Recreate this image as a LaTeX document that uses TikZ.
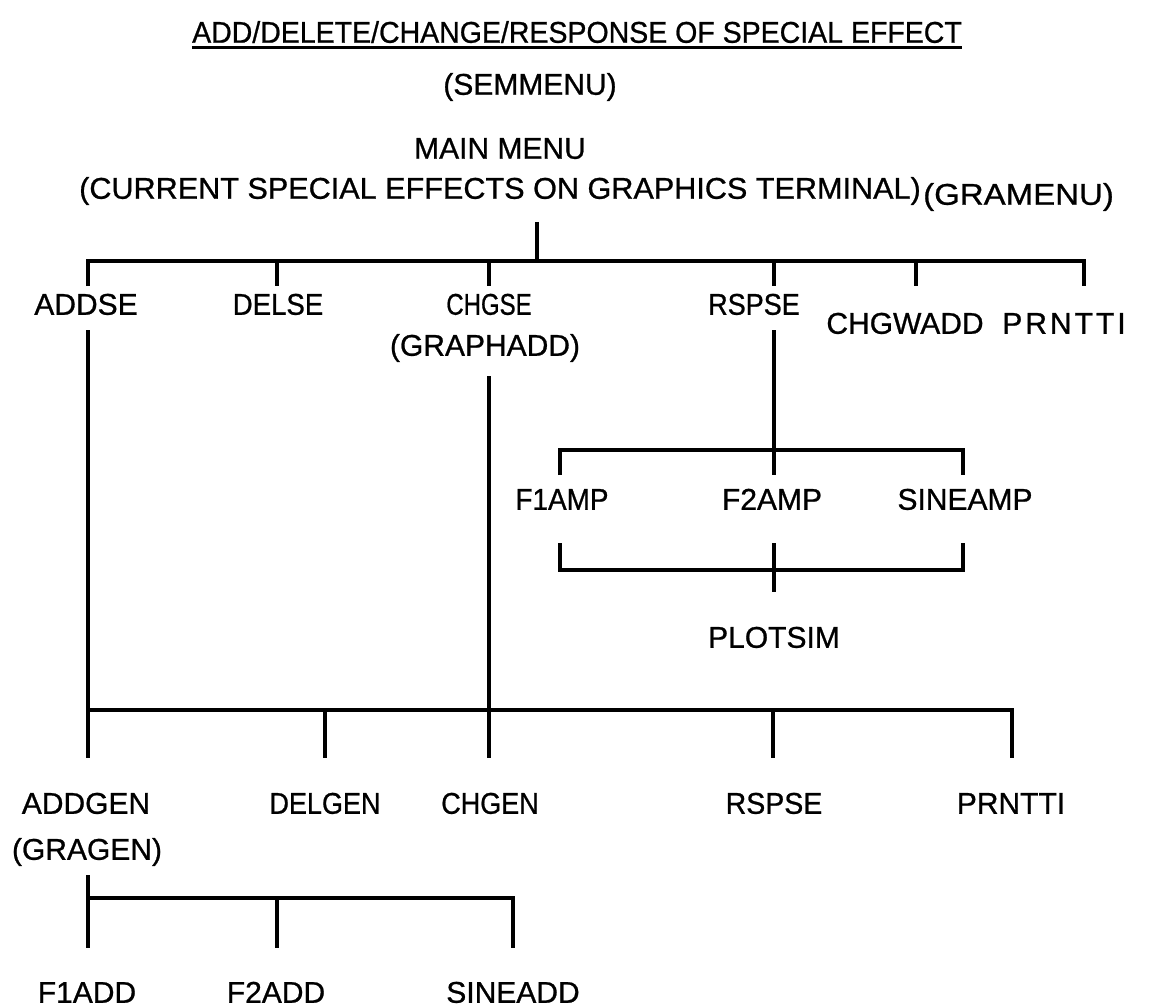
\documentclass[tikz,border=0pt]{standalone}
\usepackage{graphicx}
\usepackage{fontspec}
\setmainfont{Liberation Sans}
\newfontfamily\heavyfont[FakeBold=0.8]{Liberation Sans}
\newcommand{\sqz}[2]{\scalebox{#1}[1]{#2}}
\begin{document}
\begin{tikzpicture}[x=1pt,y=-1pt,
  lbl/.style={inner sep=0pt, text height=21.5pt, text depth=0pt, font=\heavyfont\fontsize{30}{34}\selectfont},
  wire/.style={line width=3.2pt, line join=miter}]
\useasboundingbox (0,0) rectangle (1153,1008);
% ---------- titles ----------
\node[lbl] (title) at (577,32) {\sqz{0.95}{ADD/DELETE/CHANGE/RESPONSE OF SPECIAL EFFECT}};
\draw[line width=3pt] ([yshift=-5pt]title.south west) -- ([yshift=-5pt]title.south east);
\node[lbl] (sem) at (530,84) {(SEMMENU)};
\node[lbl] (mainmenu) at (500,148) {MAIN MENU};
\node[lbl] (current) at (500,188) {\sqz{1.02}{(CURRENT SPECIAL EFFECTS ON GRAPHICS TERMINAL)}};
\node[lbl, anchor=west] (gramenu) at (923,194) {\sqz{1.1}{(GRAMENU)}};
% ---------- level 1 ----------
\node[lbl] (addse) at (86,304) {ADDSE};
\node[lbl] (delse) at (278,304) {\sqz{0.92}{DELSE}};
\node[lbl] (chgse) at (489,304) {\sqz{0.8}{CHGSE}};
\node[lbl] (graphadd) at (485,345) {(GRAPHADD)};
\node[lbl] (rspse) at (754,304) {\sqz{0.9}{RSPSE}};
\node[lbl] (chgwadd) at (905,323) {CHGWADD};
\node[lbl] (prntti) at (1064,323) {\addfontfeature{LetterSpace=10}PRNTTI};
% ---------- response sub tree ----------
\node[lbl] (f1amp) at (562,499) {\sqz{0.93}{F1AMP}};
\node[lbl] (f2amp) at (772,499) {F2AMP};
\node[lbl] (sineamp) at (965,499) {SINEAMP};
\node[lbl] (plotsim) at (774,637) {PLOTSIM};
% ---------- level 2 ----------
\node[lbl] (addgen) at (86,803) {ADDGEN};
\node[lbl] (gragen) at (87,849) {(GRAGEN)};
\node[lbl] (delgen) at (325,803) {\sqz{0.9}{DELGEN}};
\node[lbl] (chgen) at (490,803) {\sqz{0.9}{CHGEN}};
\node[lbl] (rspse2) at (774,803) {\sqz{0.95}{RSPSE}};
\node[lbl] (prntti2) at (1011,803) {PRNTTI};
% ---------- level 3 ----------
\node[lbl] (f1add) at (87,992) {F1ADD};
\node[lbl] (f2add) at (276,992) {F2ADD};
\node[lbl] (sineadd) at (513,992) {SINEADD};
% ---------- coordinates ----------
\coordinate (m0) at (537,222);
\coordinate (m1) at (537,261);
\coordinate (tA) at (88,261);  \coordinate (tAe) at (88,286);
\coordinate (tB) at (277,261); \coordinate (tBe) at (277,286);
\coordinate (tC) at (489,261); \coordinate (tCe) at (489,286);
\coordinate (tD) at (774,261); \coordinate (tDe) at (774,286);
\coordinate (tE) at (916,261); \coordinate (tEe) at (916,286);
\coordinate (tF) at (1084,261);\coordinate (tFe) at (1084,286);
\coordinate (aS) at (88,330);  \coordinate (aE) at (88,758);
\coordinate (cS) at (489,376); \coordinate (cE) at (489,758);
\coordinate (rS) at (774,330); \coordinate (rE) at (774,450);
\coordinate (fL) at (560,450); \coordinate (fLe) at (560,475);
\coordinate (fM) at (774,475);
\coordinate (fR) at (963,450); \coordinate (fRe) at (963,475);
\coordinate (gL) at (560,543); \coordinate (gLe) at (560,570);
\coordinate (gM) at (774,543); \coordinate (gMe) at (774,592);
\coordinate (gR) at (963,543); \coordinate (gRe) at (963,570);
\coordinate (bA) at (88,710);
\coordinate (bB) at (325,710); \coordinate (bBe) at (325,758);
\coordinate (bD) at (773,710); \coordinate (bDe) at (773,758);
\coordinate (bF) at (1012,710);\coordinate (bFe) at (1012,758);
\coordinate (hS) at (88,875);  \coordinate (hE) at (88,948);
\coordinate (hA) at (88,898);
\coordinate (hB) at (277,898); \coordinate (hBe) at (277,948);
\coordinate (hC) at (513,898); \coordinate (hCe) at (513,948);
% ---------- connectors ----------
\draw[wire] (m0) -- (m1);
\draw[wire] (tAe) -- (tA) -- (tF) -- (tFe);
\draw[wire] (tB) -- (tBe);
\draw[wire] (tC) -- (tCe);
\draw[wire] (tD) -- (tDe);
\draw[wire] (tE) -- (tEe);
\draw[wire] (aS) -- (aE);
\draw[wire] (cS) -- (cE);
\draw[wire] (rS) -- (rE);
\draw[wire] (fLe) -- (fL) -- (fR) -- (fRe);
\draw[wire] (rE) -- (fM);
\draw[wire] (gL) -- (gLe) -- (gRe) -- (gR);
\draw[wire] (gM) -- (gMe);
\draw[wire] (bA) -- (bF) -- (bFe);
\draw[wire] (bB) -- (bBe);
\draw[wire] (bD) -- (bDe);
\draw[wire] (hS) -- (hE);
\draw[wire] (hA) -- (hC) -- (hCe);
\draw[wire] (hB) -- (hBe);
\end{tikzpicture}
\end{document}
